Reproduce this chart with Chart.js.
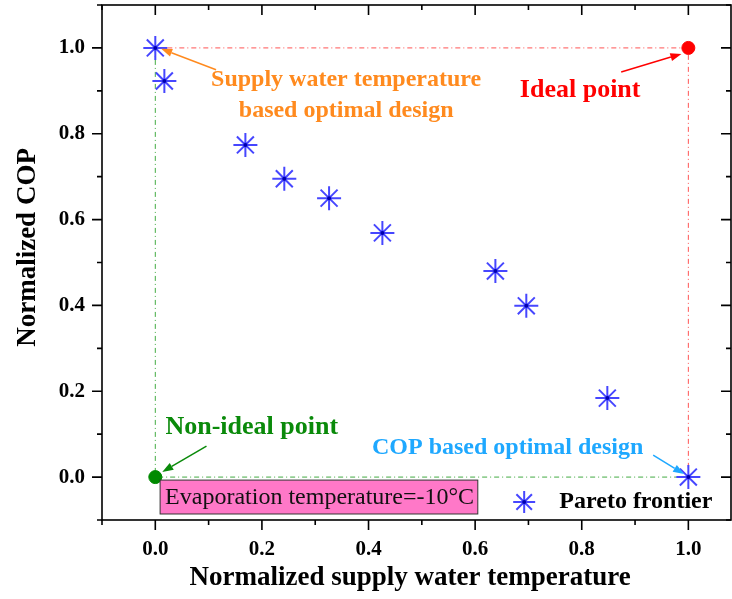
<!DOCTYPE html>
<html>
<head>
<meta charset="utf-8">
<script src="https://cdn.jsdelivr.net/npm/chart.js@4.4.1/dist/chart.umd.min.js"></script>
<style>
  html, body { margin: 0; padding: 0; background: #fff; }
  canvas { display: block; }
</style>
</head>
<body>
<canvas id="chart" width="732" height="599"></canvas>
<script>
// Pareto frontier
const paretoX = [0.0, 0.017, 0.169, 0.242, 0.326, 0.426, 0.638, 0.696, 0.848, 1.0];
const paretoY = [1.0, 0.923, 0.774, 0.695, 0.650, 0.569, 0.480, 0.399, 0.184, 0.0];
const idealPoint = [1.0, 1.0];
const nonIdealPoint = [0.0, 0.0];
const xTicks = [0.0, 0.2, 0.4, 0.6, 0.8, 1.0];
const yTicks = [0.0, 0.2, 0.4, 0.6, 0.8, 1.0];
const xMinor = [-0.1, 0.1, 0.3, 0.5, 0.7, 0.9];
const yMinor = [-0.1, 0.1, 0.3, 0.5, 0.7, 0.9, 1.1];

const SERIF = '"Liberation Serif", "Times New Roman", serif';
const BLUE = '#4646ff';
const RED = '#ff0000';
const GREEN = '#0a8a0a';
const ORANGE = '#ff8a1e';
const SKY = '#1ea8ff';

const pareto = paretoX.map((x, i) => ({ x: x, y: paretoY[i] }));
const ideal = { x: idealPoint[0], y: idealPoint[1] };
const nonIdeal = { x: nonIdealPoint[0], y: nonIdealPoint[1] };

// text labels and arrows, positioned in data units
const labels = [
  { text: 'Supply water temperature', x: 0.358, y: 0.925, color: ORANGE, size: 24 },
  { text: 'based optimal design', x: 0.358, y: 0.853, color: ORANGE, size: 24 },
  { text: 'Ideal point', x: 0.797, y: 0.902, color: RED, size: 26 },
  { text: 'Non-ideal point', x: 0.181, y: 0.117, color: GREEN, size: 26 },
  { text: 'COP based optimal design', x: 0.661, y: 0.068, color: SKY, size: 24 }
];
const arrows = [
  { from: [0.114, 0.949], to: [0.011, 0.998], color: ORANGE },
  { from: [0.874, 0.944], to: [0.987, 0.986], color: RED },
  { from: [0.096, 0.072], to: [0.013, 0.012], color: GREEN },
  { from: [0.934, 0.051], to: [0.992, 0.007], color: SKY }
];

function drawArrow(ctx, x1, y1, x2, y2, color) {
  const ang = Math.atan2(y2 - y1, x2 - x1);
  const len = 11, half = 4;
  ctx.save();
  ctx.strokeStyle = color;
  ctx.fillStyle = color;
  ctx.lineWidth = 1.5;
  ctx.beginPath();
  ctx.moveTo(x1, y1);
  ctx.lineTo(x2 - len * Math.cos(ang), y2 - len * Math.sin(ang));
  ctx.stroke();
  ctx.beginPath();
  ctx.moveTo(x2, y2);
  ctx.lineTo(x2 - len * Math.cos(ang) + half * Math.sin(ang), y2 - len * Math.sin(ang) - half * Math.cos(ang));
  ctx.lineTo(x2 - len * Math.cos(ang) - half * Math.sin(ang), y2 - len * Math.sin(ang) + half * Math.cos(ang));
  ctx.closePath();
  ctx.fill();
  ctx.restore();
}

function drawStar(ctx, cx, cy, r) {
  ctx.save();
  ctx.strokeStyle = BLUE;
  ctx.lineWidth = 2;
  ctx.beginPath();
  const d = r * Math.SQRT1_2;
  ctx.moveTo(cx - r, cy); ctx.lineTo(cx + r, cy);
  ctx.moveTo(cx, cy - r); ctx.lineTo(cx, cy + r);
  ctx.moveTo(cx - d, cy - d); ctx.lineTo(cx + d, cy + d);
  ctx.moveTo(cx - d, cy + d); ctx.lineTo(cx + d, cy - d);
  ctx.stroke();
  ctx.fillStyle = '#0000b0';
  ctx.beginPath();
  ctx.arc(cx, cy, 2, 0, Math.PI * 2);
  ctx.fill();
  ctx.restore();
}

// axis box with major/minor ticks (outward on left/bottom, inward on top/right) + axis titles
const framePlugin = {
  id: 'frame',
  afterDraw(chart) {
    const { ctx, chartArea: a, scales: { x, y } } = chart;
    ctx.save();
    ctx.strokeStyle = '#000';
    ctx.lineWidth = 1.6;
    ctx.strokeRect(a.left, a.top, a.right - a.left, a.bottom - a.top);
    ctx.beginPath();
    const tick = (vals, len) => {
      vals.forEach(v => {
        const px = x.getPixelForValue(v);
        ctx.moveTo(px, a.bottom); ctx.lineTo(px, a.bottom + len);
        ctx.moveTo(px, a.top); ctx.lineTo(px, a.top + len);
      });
    };
    const tickY = (vals, len) => {
      vals.forEach(v => {
        const py = y.getPixelForValue(v);
        ctx.moveTo(a.left, py); ctx.lineTo(a.left - len, py);
        ctx.moveTo(a.right, py); ctx.lineTo(a.right - len, py);
      });
    };
    tick(xTicks, 10); tick(xMinor, 5);
    tickY(yTicks, 10); tickY(yMinor, 5);
    ctx.stroke();

    ctx.fillStyle = '#000';
    ctx.font = 'bold 27px ' + SERIF;
    ctx.textAlign = 'center';
    ctx.textBaseline = 'middle';
    ctx.fillText('Normalized supply water temperature', x.getPixelForValue(0.478), 578);
    ctx.translate(28, y.getPixelForValue(0.535));
    ctx.rotate(-Math.PI / 2);
    ctx.fillText('Normalized COP', 0, 0);
    ctx.restore();
  }
};

const notesPlugin = {
  id: 'notes',
  afterDatasetsDraw(chart) {
    const { ctx, scales: { x, y } } = chart;
    ctx.save();
    ctx.textBaseline = 'middle';
    labels.forEach(l => {
      ctx.font = 'bold ' + l.size + 'px ' + SERIF;
      ctx.fillStyle = l.color;
      ctx.textAlign = 'center';
      ctx.fillText(l.text, x.getPixelForValue(l.x), y.getPixelForValue(l.y));
    });
    arrows.forEach(ar => {
      drawArrow(ctx, x.getPixelForValue(ar.from[0]), y.getPixelForValue(ar.from[1]),
        x.getPixelForValue(ar.to[0]), y.getPixelForValue(ar.to[1]), ar.color);
    });

    // condition box
    const bx1 = x.getPixelForValue(0.009), bx2 = x.getPixelForValue(0.605);
    const by1 = y.getPixelForValue(-0.007), by2 = y.getPixelForValue(-0.086);
    ctx.fillStyle = '#ff78c8';
    ctx.fillRect(bx1, by1, bx2 - bx1, by2 - by1);
    ctx.strokeStyle = '#333';
    ctx.lineWidth = 1;
    ctx.strokeRect(bx1, by1, bx2 - bx1, by2 - by1);
    ctx.fillStyle = '#111';
    ctx.font = '24px ' + SERIF;
    ctx.textAlign = 'left';
    ctx.fillText('Evaporation temperature=-10\u00B0C', bx1 + 5, (by1 + by2) / 2 + 1);

    // legend
    const ly = y.getPixelForValue(-0.058);
    drawStar(ctx, x.getPixelForValue(0.692), ly, 11);
    ctx.fillStyle = '#000';
    ctx.font = 'bold 24px ' + SERIF;
    ctx.fillText('Pareto frontier', x.getPixelForValue(0.758), ly);
    ctx.restore();
  }
};

const tickFont = { family: SERIF, size: 21, weight: 'bold' };

new Chart(document.getElementById('chart'), {
  type: 'scatter',
  data: {
    datasets: [
      {
        label: 'ideal bound',
        data: [{ x: nonIdeal.x, y: ideal.y }, ideal, { x: ideal.x, y: nonIdeal.y }],
        showLine: true,
        borderColor: 'rgba(255,40,40,0.8)',
        borderWidth: 1,
        borderDash: [5, 3, 1, 3],
        pointRadius: 0,
        order: 3
      },
      {
        label: 'non-ideal bound',
        data: [{ x: nonIdeal.x, y: ideal.y }, nonIdeal, { x: ideal.x, y: nonIdeal.y }],
        showLine: true,
        borderColor: 'rgba(20,150,20,0.8)',
        borderWidth: 1,
        borderDash: [5, 3, 1, 3],
        pointRadius: 0,
        order: 3
      },
      {
        label: 'Ideal point',
        data: [ideal],
        pointStyle: 'circle',
        pointRadius: 6.5,
        backgroundColor: RED,
        borderColor: RED,
        order: 2
      },
      {
        label: 'Non-ideal point',
        data: [nonIdeal],
        pointStyle: 'circle',
        pointRadius: 6.5,
        backgroundColor: '#008a00',
        borderColor: '#008a00',
        order: 2
      },
      {
        label: 'Pareto frontier',
        data: pareto,
        pointStyle: 'star',
        pointRadius: 12,
        borderWidth: 2,
        borderColor: BLUE,
        backgroundColor: BLUE,
        order: 1
      },
      {
        label: 'Pareto centre',
        data: pareto,
        pointStyle: 'circle',
        pointRadius: 2,
        borderWidth: 0,
        backgroundColor: '#0000b0',
        order: 0
      }
    ]
  },
  options: {
    responsive: false,
    animation: false,
    devicePixelRatio: 1,
    layout: { autoPadding: false, padding: { top: 5, right: 1, left: 0, bottom: 0 } },
    plugins: {
      legend: { display: false },
      tooltip: { enabled: false }
    },
    scales: {
      x: {
        type: 'linear',
        min: -0.1,
        max: 1.08,
        grid: { display: false, drawTicks: false },
        border: { display: false },
        afterBuildTicks: s => { s.ticks = xTicks.map(v => ({ value: v })); },
        afterFit: s => {
          s.height = 79;
          s.paddingLeft = 0; s.paddingRight = 0;
        },
        ticks: {
          padding: 17,
          color: '#000',
          font: tickFont,
          maxRotation: 0,
          callback: v => v.toFixed(1)
        }
      },
      y: {
        type: 'linear',
        min: -0.1,
        max: 1.1,
        grid: { display: false, drawTicks: false },
        border: { display: false },
        afterBuildTicks: s => { s.ticks = yTicks.map(v => ({ value: v })); },
        afterFit: s => {
          s.width = 102;
          s.paddingTop = 0; s.paddingBottom = 0;
        },
        ticks: {
          padding: 17,
          color: '#000',
          font: tickFont,
          callback: v => v.toFixed(1)
        }
      }
    }
  },
  plugins: [framePlugin, notesPlugin]
});
</script>
</body>
</html>
